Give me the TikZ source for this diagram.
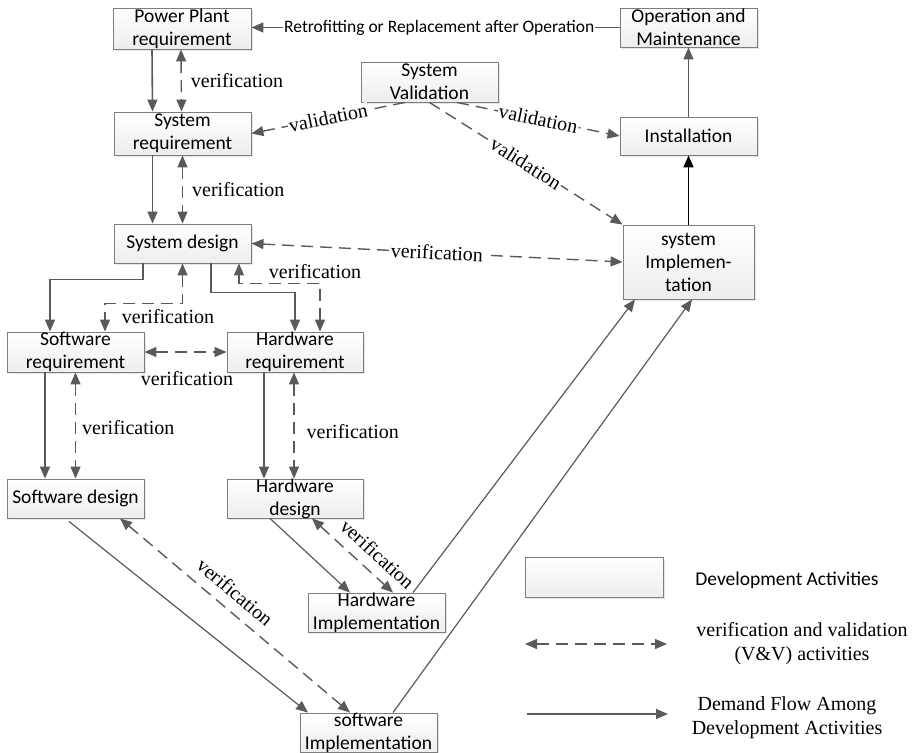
\documentclass[tikz,border=0pt]{standalone}
\usepackage{fontspec}
\setmainfont{Liberation Serif}
\newfontfamily\boxfont{Carlito}
\usetikzlibrary{arrows.meta,shadows}
\definecolor{ln}{RGB}{90,90,90}
\definecolor{bd}{RGB}{125,125,125}

\begin{document}
\begin{tikzpicture}[x=1pt,y=-1pt,
  txt/.style={align=center, inner sep=0pt, font=\boxfont\fontsize{19.5}{23}\selectfont},
  act/.style={draw=bd, line width=0.9pt, top color=white, bottom color=gray!14,
    minimum width=137pt, minimum height=40pt, inner sep=0pt,
    drop shadow={opacity=0.2, shadow xshift=1.5pt, shadow yshift=-1.5pt}},
  flow/.style={draw=ln, line width=1.6pt, -{Triangle[length=12pt,width=10pt]}},
  thinflow/.style={draw=ln, line width=1.2pt, -{Triangle[length=12pt,width=10pt]}},
  vv/.style={draw=ln, line width=1.4pt, dash pattern=on 12pt off 7pt,
    {Triangle[length=12pt,width=10pt]}-{Triangle[length=12pt,width=10pt]}},
  vvone/.style={draw=ln, line width=1.4pt, dash pattern=on 12pt off 7pt,
    -{Triangle[length=12pt,width=10pt]}},
  lbl/.style={font=\fontsize{20}{24}\selectfont, inner sep=1pt},
  onl/.style={lbl, fill=white, sloped},
]
\useasboundingbox (0,0) rectangle (914,753);

% development activities
\node[act, minimum width=138pt, minimum height=41pt, label={[txt]center:{Power Plant\\requirement}}] (pp) at (182,28.5) {};
\node[act, minimum height=39pt, label={[txt]center:{Operation and\\Maintenance}}] (om) at (688.5,27.5) {};
\node[act, label={[txt]center:{System\\Validation}}] (sv) at (429.5,82) {};
\node[act, minimum height=43pt, label={[txt]center:{System\\requirement}}] (sr) at (182.5,133.5) {};
\node[act, minimum height=38pt, label={[txt]center:{Installation}}] (inst) at (688.5,136) {};
\node[act, minimum height=39pt, label={[txt]center:{System design}}] (sd) at (182.5,243.5) {};
\node[act, minimum width=131pt, minimum height=74pt, label={[txt]center:{system\\Implemen-\\tation}}] (si) at (688.5,262) {};
\node[act, label={[txt]center:{Software\\requirement}}] (swr) at (75.5,352) {};
\node[act, minimum width=136pt, label={[txt]center:{Hardware\\requirement}}] (hwr) at (295,352) {};
\node[act, minimum height=39pt, label={[txt]center:{Software design}}] (swd) at (75.5,498.5) {};
\node[act, minimum width=136pt, minimum height=39pt, label={[txt]center:{Hardware\\design}}] (hwd) at (295,498.5) {};
\node[act, minimum height=39pt, label={[txt]center:{Hardware\\Implementation}}] (hwi) at (376.5,612.5) {};
\node[act, minimum height=39pt, label={[txt]center:{software\\Implementation}}] (swi) at (368.5,732.5) {};

% top row
\draw[flow] (om.west) -- (om.west -| pp.east)
  node[pos=0.49, fill=white, inner sep=1pt, font=\boxfont\fontsize{17.5}{20}\selectfont]
  {Retrofitting or Replacement after Operation};
\draw[flow] (inst.north) -- (om.south);
\draw[flow, draw=black] (si.north) -- (inst.south);

% requirement chain
\draw[flow] ([xshift=-30pt]pp.south) -- ([xshift=-30pt]sr.north);
\draw[vv] ([xshift=-1pt]pp.south) -- ([xshift=-1pt]sr.north)
  node[lbl, midway, right=8pt] {verification};
\draw[flow] ([xshift=-30pt]sr.south) -- ([xshift=-30pt]sd.north);
\draw[vv] (sr.south) -- (sd.north)
  node[lbl, midway, right=8pt] {verification};

% system validation
\draw[vvone] ([xshift=-24.5pt]sv.south) -- (sr.east) node[onl, midway] {validation};
\draw[vvone] ([xshift=27.5pt]sv.south) -- (inst.west) node[onl, midway] {validation};
\draw[vvone] (sv.south) -- (si.north west) node[onl, midway] {validation};
\draw[vv] (sd.east) -- (si.west) node[onl, midway] {verification};

% system design to software / hardware requirement
\draw[flow] ([xshift=-39.5pt]sd.south) -- ++(0,16) -| ([xshift=-25.5pt]swr.north);
\draw[vv] (sd.south) -- ++(0,40) -| ([xshift=29.5pt]swr.north);
\node[lbl] (vsw) at (168,317) {verification};
\draw[flow] ([xshift=28.5pt]sd.south) -- ++(0,29) -| (hwr.north);
\draw[vv] ([xshift=56.5pt]sd.south) -- ++(0,20) -| ([xshift=25pt]hwr.north);
\node[lbl] (vhw) at (315,272) {verification};

\draw[vv] (swr.east) -- (hwr.west);
\node[lbl] (vsh) at (187,379) {verification};

% requirement to design
\draw[flow] ([xshift=-30.5pt]swr.south) -- ([xshift=-30.5pt]swd.north);
\draw[vv] (swr.south) -- (swd.north) node[lbl, pos=0.52, right=5pt] {verification};
\draw[flow] ([xshift=-31pt]hwr.south) -- ([xshift=-31pt]hwd.north);
\draw[vv] ([xshift=-1pt]hwr.south) -- ([xshift=-1pt]hwd.north) node[lbl, pos=0.56, right=11pt] {verification};

% design to implementation
\draw[thinflow] ([xshift=-6.5pt,yshift=-3pt]swd.south) -- ([xshift=-60.5pt]swi.north);
\draw[vv] ([xshift=44.5pt]swd.south) -- ([xshift=-18.5pt]swi.north)
  node[lbl, sloped, pos=0.45, above=9pt] {verification};
\draw[thinflow] ([xshift=-25pt]hwd.south) -- ([xshift=-26.5pt]hwi.north);
\draw[vv] ([xshift=17pt]hwd.south) -- ([xshift=16.5pt]hwi.north)
  node[lbl, sloped, pos=0.66, above=9pt] {verification};

% implementation to system implementation
\draw[thinflow] ([xshift=36.5pt]hwi.north) -- ([xshift=-53.5pt]si.south);
\draw[thinflow] ([xshift=24.5pt]swi.north) -- ([xshift=3.5pt]si.south);

% legend
\node[act, minimum width=138pt] (leg) at (594,577) {};
\node[txt] (legact) at (787,580) {Development Activities};
\coordinate (la) at (525,644);
\coordinate (lb) at (667,644);
\draw[vv] (la) -- (lb);
\node[lbl, align=center, font=\fontsize{20}{24}\selectfont] (legvv) at (802,644)
  {verification and validation\\(V\&V) activities};
\coordinate (lc) at (527,714);
\coordinate (ld) at (668,714);
\draw[flow] (lc) -- (ld);
\node[lbl, align=center, font=\fontsize{20}{24}\selectfont] (legflow) at (787,718)
  {Demand Flow Among\\Development Activities};
\end{tikzpicture}
\end{document}
